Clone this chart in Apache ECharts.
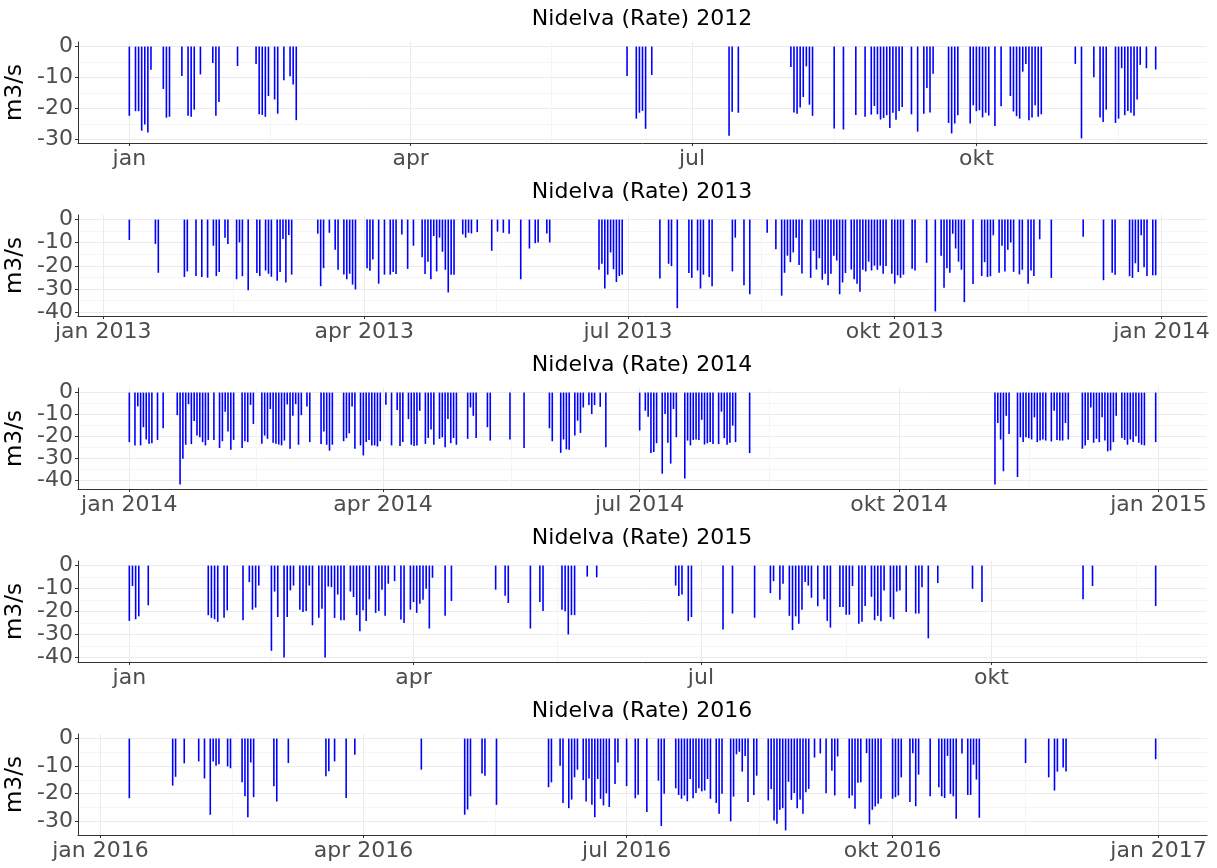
<!DOCTYPE html>
<html>
<head>
<meta charset="utf-8">
<title>Nidelva (Rate)</title>
<script src="https://cdn.jsdelivr.net/npm/echarts@6/dist/echarts.min.js"></script>
<style>
  html, body { margin: 0; padding: 0; background: #fff; }
  #chart { width: 1217px; height: 868px; }
</style>
</head>
<body>
<div id="chart"></div>
<script>
'use strict';

// one year per panel; days are counted from 1 January of that year
var years = [2012, 2013, 2014, 2015, 2016];

var days2012 = [0,2,3,4,5,6,7,11,12,13,
  17,19,20,21,23,27,28,29,35,41,
  42,43,44,45,47,48,50,52,53,54,
  161,164,165,166,167,169,194,195,197,214,
  215,216,217,218,219,220,221,228,231,235,
  238,240,241,242,243,244,245,246,247,248,
  249,250,253,255,257,258,259,260,265,266,
  267,268,272,273,274,275,276,277,278,280,
  282,285,286,287,288,289,290,291,292,293,
  294,295,306,308,312,314,315,316,319,320,
  321,322,323,324,325,326,327,329,332];
var flow2012 = [-22.4,-20.9,-20.9,-27.2,-25.2,-27.8,-7.5,-13.7,-23,-22.7,
  -9.5,-22.4,-22.7,-20.4,-9,-5.3,-22.4,-17.9,-6.3,-5.6,
  -21.9,-22.1,-22.7,-16,-17.1,-21.7,-10.9,-9.6,-12.3,-23.8,
  -9.5,-23.3,-21.4,-20.8,-26.6,-9.2,-28.8,-21.1,-21.4,-6.6,
  -21.3,-21.7,-19.7,-16.3,-6.4,-18.8,-22.4,-26.5,-26.8,-22.1,
  -22.7,-22,-19.2,-21.9,-23.6,-23.1,-22.2,-26.3,-21.4,-23.7,
  -20.8,-19.5,-21.9,-27.5,-21.7,-13.4,-21.3,-8.8,-24.7,-28.1,
  -24.9,-22.2,-24.9,-19,-20.9,-20.6,-22.9,-21.4,-22.3,-25.7,
  -19.3,-16,-21,-22.5,-23.3,-8.1,-5.6,-23.8,-22.9,-19,
  -22.7,-21.9,-5.6,-29.7,-9.9,-22.9,-24.4,-20.4,-24.7,-23.3,
  -7,-22.2,-20.8,-21.4,-22.4,-17.1,-5.9,-7,-7.4];

var days2013 = [9,18,19,28,29,32,34,36,38,39,
  40,42,43,46,47,48,50,53,54,56,
  57,58,60,61,62,63,64,65,74,75,
  76,78,80,81,83,84,85,86,87,91,
  92,93,95,97,99,100,101,103,105,107,
  110,111,112,113,114,115,116,117,118,119,
  120,121,124,125,126,127,129,134,136,138,
  140,144,147,149,150,153,154,171,172,173,
  174,175,176,177,178,179,192,195,196,198,
  202,203,205,206,207,209,210,217,218,221,
  223,229,232,234,235,236,237,238,239,240,
  241,244,245,246,247,248,249,250,251,252,
  253,254,255,256,258,259,260,261,262,263,
  264,265,266,267,268,269,270,272,273,274,
  275,276,279,280,284,287,289,290,291,292,
  293,294,295,296,297,300,303,304,305,306,
  307,309,310,311,312,313,314,316,317,319,
  320,321,323,327,338,345,348,349,354,355,
  356,357,358,359,360,362,363];
var flow2013 = [-8.8,-10.5,-23,-24.8,-22.4,-24.4,-24.8,-25.1,-11.3,-24.4,
  -22.7,-7.8,-10.6,-25.8,-9.9,-24.5,-30.6,-23.1,-24.4,-22,
  -23.4,-24.7,-26.4,-22.7,-8.4,-27.2,-6.7,-23.8,-6.1,-28.8,
  -21,-5.7,-13,-21.7,-23.7,-25.8,-23.4,-28.1,-30.2,-21,
  -22.1,-17.3,-27.7,-23.8,-23.8,-22.7,-23.5,-6.4,-21.3,-11.3,
  -16.3,-23.5,-18.2,-25.8,-7.1,-22.4,-7.8,-13.9,-21.7,-31.5,
  -23.8,-23.8,-6.4,-7.8,-5.7,-6,-5.4,-13.5,-5.2,-5.7,
  -6.1,-25.8,-12.5,-10.2,-9.9,-6,-9.9,-21.7,-19.1,-29.8,
  -23.8,-14.2,-21.5,-27,-24.4,-23.8,-25.5,-19.1,-20.1,-38.3,
  -23.1,-25.2,-22,-29.8,-23.8,-24.8,-28.8,-22.4,-7.8,-28.4,
  -32.3,-5.7,-12.8,-32.9,-23,-15.6,-18.4,-14.2,-7.8,-19.6,
  -23.3,-25.2,-13.5,-21.6,-16.7,-26,-23.4,-28.4,-23.4,-15.6,
  -17.7,-32.3,-27.2,-23.1,-21.6,-25.8,-27.7,-31.2,-21.7,-22.4,
  -18.2,-22,-19.9,-21.7,-19.9,-23.4,-20.1,-23.4,-27.7,-24.1,
  -25.2,-23.8,-21.3,-22,-18.7,-39.7,-15.6,-29.5,-21,-23,
  -6.1,-12.5,-18.2,-21.7,-35.7,-27.9,-24.4,-18.4,-24.8,-24.5,
  -6.8,-23,-11.3,-22.4,-13,-9.9,-22.6,-23.7,-21.7,-27.7,
  -22,-24.4,-8.5,-25.2,-7.4,-26.2,-23,-23.8,-24.5,-25.2,
  -18.9,-22.7,-6.8,-20.6,-24.4,-24.1,-24.1];

var days2014 = [0,2,3,4,5,6,7,8,10,12,
  17,18,19,20,21,22,23,24,25,26,
  27,28,30,32,33,34,35,36,37,40,
  41,42,43,44,47,48,49,50,51,52,
  53,54,55,56,57,58,59,60,61,63,
  64,68,69,70,71,72,76,77,78,79,
  80,82,83,84,85,86,87,88,89,91,
  93,95,96,97,99,100,101,102,103,105,
  106,107,108,110,111,112,113,114,115,116,
  120,121,122,123,127,128,135,140,149,150,
  153,154,155,156,158,159,160,161,163,164,
  165,167,169,181,183,184,185,186,187,189,
  190,191,192,193,194,197,198,199,200,201,
  202,203,204,205,206,207,209,210,211,212,
  213,214,215,220,307,308,309,310,311,312,
  315,316,317,318,319,320,321,322,323,324,
  325,327,328,329,330,331,332,333,338,339,
  340,341,342,343,344,345,346,347,348,349,
  350,352,353,354,355,356,357,358,359,360,
  364];
var flow2014 = [-22.6,-24.1,-6.3,-24.1,-15.8,-21.4,-23.4,-23.1,-21.6,-16.3,
  -10.3,-41.9,-30.2,-23.8,-5.3,-23.5,-13,-19.6,-20.4,-22.6,
  -24.1,-21.6,-21.6,-25.3,-22.2,-8.7,-17.8,-26.1,-21.6,-25.3,
  -22.2,-22.6,-5.6,-14.3,-23.4,-19.6,-21.1,-7.5,-22.9,-23.4,
  -23.7,-24.1,-21.9,-5.4,-25.6,-10.6,-5.3,-23.8,-10.3,-6.3,
  -22.6,-23.5,-17.8,-23.8,-26.5,-23.8,-22.2,-20.8,-18.6,-6.3,
  -25.6,-24.1,-28.7,-22.6,-21.6,-24.1,-24.1,-24.6,-22.2,-5.6,
  -24.1,-8,-24.4,-22.6,-12.1,-23.8,-24.4,-24.1,-8.3,-23.4,
  -20.7,-16.9,-23.8,-21.1,-20.4,-24.9,-12.1,-23.1,-20.7,-23.8,
  -21.1,-6.8,-10.6,-20.7,-15.8,-21.9,-21.4,-25.3,-16.3,-22.2,
  -27.5,-21.4,-25.9,-26.1,-19.6,-12.8,-18.4,-6.8,-5.7,-9.8,
  -5.7,-6.5,-24.9,-17.3,-8.3,-11,-27.6,-27.1,-23.1,-37,
  -9.8,-22.9,-32.4,-7.5,-20.4,-39.2,-21.9,-24.1,-21.6,-21.4,
  -21.6,-12.4,-23.7,-23.1,-22.6,-23.5,-23.5,-8.7,-20.8,-23.8,
  -22.9,-15.1,-22.6,-27.6,-41.9,-13.9,-21.4,-35.9,-10.6,-18.9,
  -38.5,-20.4,-22.6,-20.4,-20.8,-21.4,-11.3,-22.6,-21.9,-21.4,
  -21.9,-22.3,-8.3,-21.6,-21.9,-21.9,-13.9,-21.4,-25.6,-24.1,
  -21.6,-6.8,-22.9,-21.1,-22.6,-11.3,-21.9,-26.8,-26.4,-22.6,
  -10.6,-20.7,-21.6,-23.8,-21.4,-22.6,-19.9,-22.9,-23.8,-24.1,
  -22.6];

var days2015 = [0,1,2,3,6,25,26,27,28,30,
  31,36,38,39,40,41,45,46,47,49,
  50,51,52,54,55,56,57,58,60,61,
  62,63,64,65,66,67,68,70,71,72,
  73,74,75,76,78,79,80,81,82,84,
  86,87,89,90,91,92,93,94,95,96,
  100,102,116,119,120,127,130,131,137,138,
  139,140,141,145,148,173,174,175,177,178,
  188,191,198,203,204,206,207,209,210,211,
  212,213,214,215,216,218,220,221,222,225,
  226,227,228,229,231,232,233,235,236,237,
  238,239,241,242,243,244,246,249,250,251,
  253,256,267,270,302,305,325];
var flow2015 = [-24.1,-8.9,-23.4,-22.1,-17.3,-21.6,-22.8,-23.4,-24.5,-22.7,
  -19.5,-23.8,-7.2,-19.2,-18.3,-8.7,-37.1,-11.3,-22.4,-40,
  -22.4,-10.8,-8.7,-19.2,-20.2,-19.8,-8.7,-26,-22.7,-18.8,
  -40,-9.1,-9.4,-22.8,-12.6,-23.8,-23.8,-11.3,-13.7,-21.6,
  -28.6,-19.5,-24.1,-14.7,-20.6,-19.8,-10.5,-21.9,-7.9,-6.8,
  -23.5,-25,-19.2,-15.9,-20.6,-16.6,-14.9,-10.1,-27.4,-5.3,
  -21.9,-15.4,-10.5,-13.1,-16.3,-27.4,-15.9,-19.8,-19.2,-19.9,
  -30,-21.6,-21.6,-4.8,-5.1,-8.7,-13.3,-12.6,-24.2,-22.4,
  -27.8,-20.9,-22.7,-12,-6.8,-14.9,-7.9,-21.9,-28.1,-22.1,
  -25.3,-19.2,-7.2,-8.7,-14,-17.7,-14.7,-24.1,-27,-18,
  -18,-21.4,-21.4,-8.9,-25.3,-24.5,-17.6,-13.6,-23.8,-21.9,
  -24.2,-10.8,-22.4,-23.4,-11.3,-10.8,-20.2,-20.9,-20.9,-9.4,
  -31.7,-7.6,-10.1,-15.9,-14.7,-8.9,-17.6];

var days2016 = [10,25,26,29,34,36,38,39,40,41,
  44,45,49,50,51,52,53,60,61,65,
  78,79,81,85,88,111,126,127,128,132,
  133,137,155,156,159,160,162,163,164,165,
  167,168,169,170,171,172,173,174,175,176,
  178,179,182,185,186,189,193,194,195,199,
  200,201,202,203,204,205,206,207,208,209,
  210,211,213,214,215,218,219,220,221,222,
  223,224,226,227,231,232,233,234,235,236,
  237,238,239,240,241,242,243,244,245,247,
  249,251,253,254,255,259,260,261,262,263,
  265,266,267,268,269,270,274,275,276,277,
  280,281,282,283,287,290,291,292,293,294,
  295,296,298,300,301,302,303,304,320,328,
  330,331,333,334,365];
var flow2016 = [-21.7,-17.1,-13.9,-9,-8.3,-14.5,-27.7,-8.3,-9.9,-9.3,
  -10.1,-10.8,-15.9,-21,-28.6,-8.7,-21.3,-17.3,-22.9,-8.9,
  -13.7,-11.9,-8.3,-21.6,-5.9,-11.3,-27.7,-25.8,-21,-12.7,
  -13.5,-24.1,-17.7,-15.9,-9.9,-23.4,-25.3,-22.2,-14.1,-11.3,
  -15.1,-22.9,-14.5,-24.1,-28.6,-14.7,-21.9,-24.3,-19.9,-24.9,
  -16.5,-8.7,-17.3,-21.7,-20.4,-26.7,-15.3,-31.8,-20.1,-18.1,
  -20.5,-21.9,-20.7,-22.8,-14.7,-21.7,-19.8,-18.1,-19.2,-18.9,
  -14.7,-21.9,-23.4,-27.3,-20.1,-30.1,-21.1,-5.7,-4.8,-12,
  -6.3,-23.1,-20.5,-13.5,-22.5,-18.3,-29.8,-31,-25.9,-25.3,
  -33.4,-15.7,-22.3,-19.8,-25.3,-22.2,-27.3,-19.5,-18.3,-6.9,
  -5.4,-19.9,-11.7,-20.7,-6.5,-21.7,-20.7,-25.5,-16.1,-15.9,
  -5.3,-31.2,-25.9,-24.7,-23.7,-21.9,-21.9,-21.3,-20.7,-14.1,
  -23.1,-5.3,-24.6,-13.1,-21,-17.7,-21,-21.6,-6.3,-20.1,
  -21,-29.2,-5.4,-20.5,-20.5,-9.5,-14.9,-28.8,-8.9,-14.1,
  -18.9,-12,-10.5,-12,-7.5];

var dayLists = [days2012, days2013, days2014, days2015, days2016];
var flowLists = [flow2012, flow2013, flow2014, flow2015, flow2016];
var labelWithYear = [false, true, true, false, true];
var monthNames = ['jan','feb','mar','apr','mai','jun','jul','aug','sep','okt','nov','des'];
var yMajorTicks = [0, -10, -20, -30, -40];
var yMinorTicks = [-5, -15, -25, -35];

var DAY = 86400000;
var FONT = '"DejaVu Sans", "Liberation Sans", sans-serif';

function dayToTime(year, d) {
  return Date.UTC(year, 0, 1) + d * DAY;
}

var grids = [], xAxes = [], yAxes = [], series = [], titles = [];

years.forEach(function (year, i) {
  var days = dayLists[i], flow = flowLists[i];

  // ggplot-style 5% padding around the data range
  var first = Math.min.apply(null, days), last = Math.max.apply(null, days);
  var padX = (last - first) * 0.05;
  var xMin = dayToTime(year, first - padX), xMax = dayToTime(year, last + padX);
  var low = Math.min.apply(null, flow);
  var padY = -low * 0.05;
  var yMin = low - padY, yMax = padY;

  // quarterly breaks, minor lines half way between them
  var breaks = [];
  for (var q = -1; q <= 5; q++) breaks.push(Date.UTC(year, q * 3, 1));
  var majors = breaks.filter(function (t) { return t >= xMin && t <= xMax; });
  var minors = [];
  for (var k = 1; k < breaks.length; k++) {
    var mid = (breaks[k - 1] + breaks[k]) / 2;
    if (mid >= xMin && mid <= xMax) minors.push(mid);
  }
  var inY = function (v) { return v >= yMin && v <= yMax; };

  var top = 42 + i * 173;
  grids.push({ left: 78, right: 10, top: top, height: 101, outerBoundsMode: 'none' });

  titles.push({
    text: 'Nidelva (Rate) ' + year,
    left: 642, top: top - 34, textAlign: 'center', padding: 0,
    textStyle: { fontFamily: FONT, fontSize: 22, fontWeight: 'normal', color: '#000' }
  });

  var withYear = labelWithYear[i];
  xAxes.push({
    gridIndex: i, type: 'value', min: xMin, max: xMax,
    axisLine: { onZero: false, lineStyle: { color: '#333', width: 1 } },
    axisTick: { show: true, customValues: majors, length: 3, lineStyle: { color: '#333' } },
    axisLabel: {
      customValues: majors, fontFamily: FONT, fontSize: 22, color: '#4d4d4d', margin: 5,
      formatter: function (v) {
        var d = new Date(v);
        return monthNames[d.getUTCMonth()] + (withYear ? ' ' + d.getUTCFullYear() : '');
      }
    },
    splitLine: { show: true, lineStyle: { color: '#ebebeb', width: 1 } }
  });
  xAxes.push({
    gridIndex: i, type: 'value', min: xMin, max: xMax, position: 'bottom',
    axisLine: { show: false, onZero: false },
    axisTick: { show: false, customValues: minors },
    axisLabel: { show: false, customValues: minors },
    splitLine: { show: true, lineStyle: { color: '#f5f5f5', width: 1 } }
  });

  yAxes.push({
    gridIndex: i, type: 'value', min: yMin, max: yMax,
    name: 'm3/s', nameLocation: 'middle', nameGap: 41,
    nameTextStyle: { fontFamily: FONT, fontSize: 23, color: '#000' },
    axisLine: { show: true, onZero: false, lineStyle: { color: '#333', width: 1 } },
    axisTick: { show: true, customValues: yMajorTicks.filter(inY), length: 3, lineStyle: { color: '#333' } },
    axisLabel: { customValues: yMajorTicks.filter(inY), fontFamily: FONT, fontSize: 22, color: '#4d4d4d', margin: 5 },
    splitLine: { show: true, lineStyle: { color: '#ebebeb', width: 1 } }
  });
  yAxes.push({
    gridIndex: i, type: 'value', min: yMin, max: yMax, position: 'left',
    axisLine: { show: false, onZero: false },
    axisTick: { show: false, customValues: yMinorTicks.filter(inY) },
    axisLabel: { show: false, customValues: yMinorTicks.filter(inY) },
    splitLine: { show: true, lineStyle: { color: '#f5f5f5', width: 1 } }
  });

  series.push({
    type: 'bar', xAxisIndex: 2 * i, yAxisIndex: 2 * i,
    data: days.map(function (d, n) { return [dayToTime(year, d), flow[n]]; }),
    barWidth: 1.6,
    itemStyle: { color: '#0000ff' },
    silent: true
  });
});

var chart = echarts.init(document.getElementById('chart'));
chart.setOption({
  useUTC: true,
  animation: false,
  backgroundColor: '#fff',
  textStyle: { fontFamily: FONT },
  title: titles,
  grid: grids,
  xAxis: xAxes,
  yAxis: yAxes,
  series: series
});
</script>
</body>
</html>
